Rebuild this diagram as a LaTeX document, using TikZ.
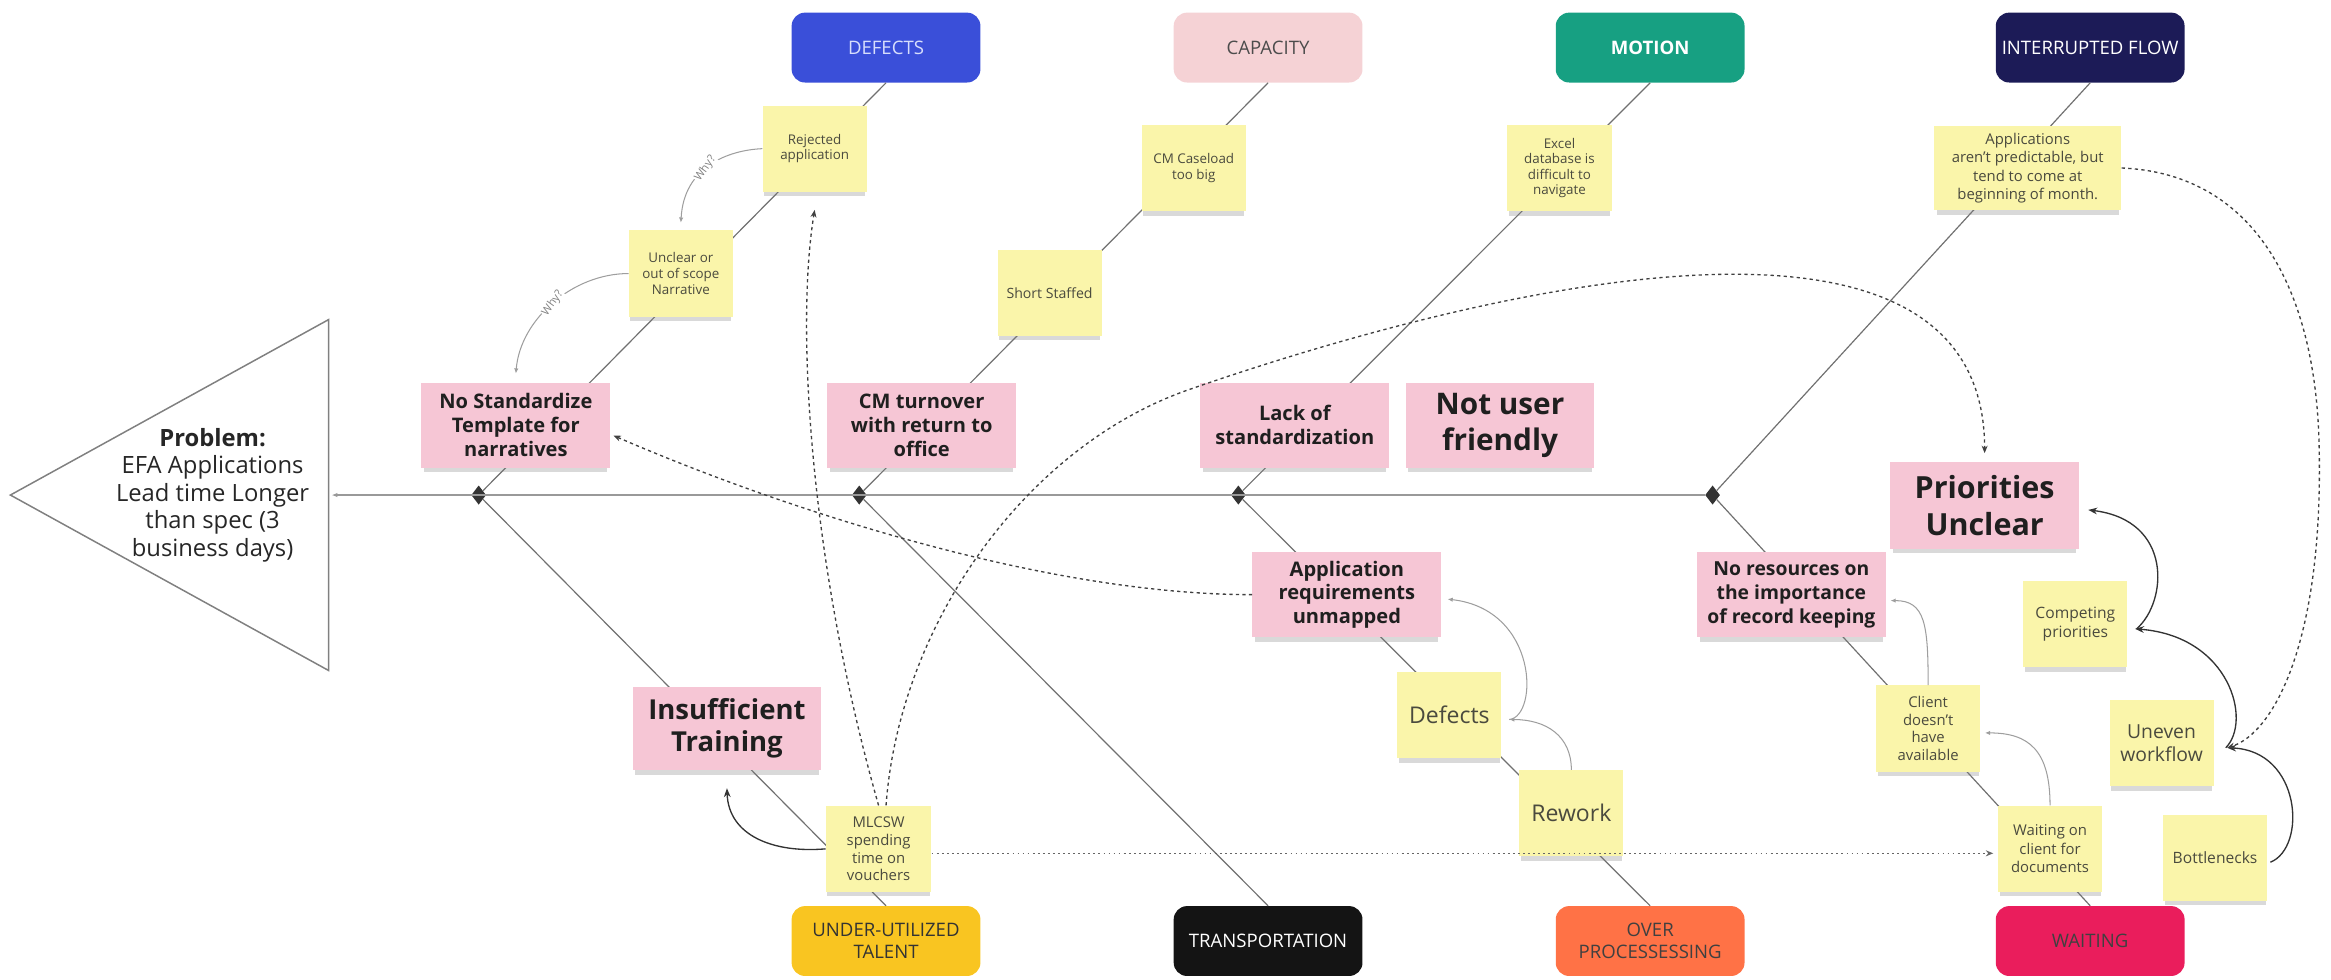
\documentclass[tikz,border=0pt]{standalone}
\usepackage{fontspec}
\setmainfont{Open Sans}
\usetikzlibrary{shapes.geometric,arrows.meta,shadows,calc}
\definecolor{cdefects}{HTML}{3A4FD9}
\definecolor{ccapacity}{HTML}{F5D2D5}
\definecolor{cmotion}{HTML}{17A082}
\definecolor{cinter}{HTML}{1C1B57}
\definecolor{cunder}{HTML}{F9C521}
\definecolor{ctrans}{HTML}{141414}
\definecolor{cover}{HTML}{FF7246}
\definecolor{cwait}{HTML}{EA1D5C}
\definecolor{pinkbox}{HTML}{F6C6D5}
\definecolor{sticky}{HTML}{FAF5AA}
\definecolor{stext}{HTML}{4A4A3E}
\definecolor{bonec}{HTML}{707070}
\tikzset{
 cat/.style={rounded corners=9pt,minimum width=127pt,minimum height=47pt,align=center,inner sep=1pt,font=\fontsize{12.5}{14.5}\selectfont},
 shd/.style={drop shadow={shadow xshift=0pt,shadow yshift=-4pt,shadow scale=0.97,opacity=0.3}},
 pinkn/.style={shd,fill=pinkbox,minimum width=127pt,minimum height=57pt,align=center,inner sep=1pt,text=black!88,font=\bfseries\fontsize{13.5}{16}\selectfont},
 stick/.style={shd,fill=sticky,minimum width=70pt,minimum height=58pt,align=center,inner sep=1pt,text=stext,font=\fontsize{9}{10.5}\selectfont},
 dia/.style={diamond,fill=black!80,minimum width=10pt,minimum height=13pt,inner sep=0pt},
 bone/.style={draw=bonec,line width=0.8pt},
 spine/.style={draw=black!40,line width=1.3pt},
 graylink/.style={draw=black!38,line width=0.7pt,-{Latex[length=3.5pt,width=3pt]}},
 blacklink/.style={draw=black!80,line width=0.9pt,-{Stealth[length=6pt,width=4.5pt]}},
 dashlink/.style={draw=black!75,line width=0.9pt,dash pattern=on 2.2pt off 2.2pt,-{Stealth[length=5pt,width=4pt]}},
 dotlink/.style={draw=black!60,line width=1pt,dash pattern=on 1.2pt off 2.2pt,-{Stealth[length=5pt,width=4pt]}},
 whylab/.style={font=\fontsize{7.5}{8}\selectfont,text=black!50,fill=white,inner sep=0.5pt,rotate=55},
}
\begin{document}
\begin{tikzpicture}[x=1pt,y=-1pt]
\useasboundingbox (0,0) rectangle (1568,659);
% problem head
\coordinate (tTip) at (7,333);
\coordinate (tTop) at (221,215);
\coordinate (tBot) at (221,451);
\coordinate (tR) at (223,333);
\draw[draw=black!50,line width=1pt] (tTip) -- (tTop) -- (tBot) -- cycle;
\node[align=center,text=black!85,font=\fontsize{16}{18.5}\selectfont] (prob) at (143,333)
 {\textbf{Problem:}\\EFA Applications\\Lead time Longer\\than spec (3\\business days)};
% categories
\node[cat,fill=cdefects,text={rgb,255:red,215;green,222;blue,252}] (cDef) at (596,32) {DEFECTS};
\node[cat,fill=ccapacity,text=black!70] (cCap) at (853,32) {CAPACITY};
\node[cat,fill=cmotion,text=white,font=\bfseries\fontsize{12.5}{14.5}\selectfont] (cMot) at (1110,32) {MOTION};
\node[cat,fill=cinter,text=white] (cInt) at (1406,32) {INTERRUPTED FLOW};
\node[cat,fill=cunder,text=black!80] (cUnd) at (596,633) {UNDER-UTILIZED\\TALENT};
\node[cat,fill=ctrans,text=white] (cTra) at (853,633) {TRANSPORTATION};
\node[cat,fill=cover,text=black!75] (cOve) at (1110,633) {OVER\\PROCESSESSING};
\node[cat,fill=cwait,text=black!75] (cWai) at (1406,633) {WAITING};
% diamonds
\node[dia] (d1) at (322,333) {};
\node[dia] (d2) at (578,333) {};
\node[dia] (d3) at (833,333) {};
\node[dia] (d4) at (1152,333) {};
% spine and bones
\draw[spine,-{Latex[length=4pt,width=3pt]}] (d4) -- (tR);
\draw[bone] (d1) -- (cDef.south);
\draw[bone] (d2) -- (cCap.south);
\draw[bone] (d3) -- (cMot.south);
\draw[bone] (d4) -- (cInt.south);
\draw[bone] (d1) -- (cUnd.north);
\draw[bone] (d2) -- (cTra.north);
\draw[bone] (d3) -- (cOve.north);
\draw[bone] (d4) -- (cWai.north);
% pink nodes
\node[pinkn] (pNst) at (347,286) {No Standardize\\Template for\\narratives};
\node[pinkn] (pCmt) at (620,286) {CM turnover\\with return to\\office};
\node[pinkn] (pLack) at (871,286) {Lack of\\standardization};
\node[pinkn,font=\bfseries\fontsize{20}{24.5}\selectfont] (pNuf) at (1009,286) {Not user\\friendly};
\node[pinkn,minimum height=58pt,font=\bfseries\fontsize{20.5}{24.5}\selectfont] (pPri) at (1335,340) {Priorities\\Unclear};
\node[pinkn] (pApp) at (906,400) {Application\\requirements\\unmapped};
\node[pinkn,font=\bfseries\fontsize{13}{16}\selectfont] (pNores) at (1205,400) {No resources on\\the importance\\of record keeping};
\node[pinkn,minimum height=56pt,font=\bfseries\fontsize{18.5}{21.5}\selectfont] (pIns) at (489,490) {Insufficient\\Training};
% stickies
\node[stick] (sRej) at (548,100) {Rejected\\application};
\node[stick] (sUnc) at (458,184) {Unclear or\\out of scope\\Narrative};
\node[stick] (sCmc) at (803,113) {CM Caseload\\too big};
\node[stick,font=\fontsize{9.5}{11}\selectfont] (sSs) at (706,197) {Short Staffed};
\node[stick] (sExc) at (1049,113) {Excel\\database is\\difficult to\\navigate};
\node[stick,minimum width=126pt,minimum height=57pt,font=\fontsize{10}{12.4}\selectfont] (sAppl) at (1364,113) {Applications\\aren't predictable, but\\tend to come at\\beginning of month.};
\node[stick,minimum width=71pt,font=\fontsize{10}{12}\selectfont] (sMlc) at (591,571) {MLCSW\\spending\\time on\\vouchers};
\node[stick,font=\fontsize{15.5}{18}\selectfont] (sDef) at (975,481) {Defects};
\node[stick,font=\fontsize{15.5}{18}\selectfont] (sRew) at (1057,547) {Rework};
\node[stick,font=\fontsize{10}{12}\selectfont] (sCli) at (1297,490) {Client\\doesn't\\have\\available};
\node[stick,font=\fontsize{10}{12.5}\selectfont] (sWai) at (1379,571) {Waiting on\\client for\\documents};
\node[stick,font=\fontsize{10.5}{12.5}\selectfont] (sCmp) at (1396,420) {Competing\\priorities};
\node[stick,font=\fontsize{13}{15.5}\selectfont] (sUne) at (1454,500) {Uneven\\workflow};
\node[stick,font=\fontsize{10.5}{12.5}\selectfont] (sBot) at (1490,577) {Bottlenecks};
% why arcs
\draw[graylink] (sRej.west) .. controls (490,101) and (460,112) .. ($(sUnc.north)+(0,-5)$)
  node[whylab,pos=0.55] {Why?};
\draw[graylink] (sUnc.west) .. controls (385,184) and (350,215) .. ($(pNst.north)+(0,-6)$)
  node[whylab,pos=0.5] {Why?};
% gray chains
\draw[graylink] ($(sDef.east)+(5,3)$) .. controls (1035,482) and (1035,410) .. ($(pApp.east)+(4,3)$);
\draw[graylink] (sRew.north) .. controls (1057,495) and (1040,484) .. ($(sDef.east)+(5,3)$);
\draw[graylink] (sCli.north) .. controls (1297,420) and (1295,404) .. ($(pNores.east)+(3,4)$);
\draw[graylink] (sWai.north) .. controls (1379,505) and (1365,493) .. ($(sCli.east)+(3,3)$);
% black arcs
\draw[blacklink] (sMlc.west) .. controls (520,574) and (490,562) .. ($(pIns.south)+(0,12)$);
\draw[blacklink] ($(sCmp.east)+(6,3)$) .. controls (1458,405) and (1462,350) .. ($(pPri.east)+(6,3)$);
\draw[blacklink] ($(sUne.east)+(8,3)$) .. controls (1515,485) and (1500,428) .. ($(sCmp.east)+(5,3)$);
\draw[blacklink] ($(sBot.east)+(2,3)$) .. controls (1552,570) and (1548,505) .. ($(sUne.east)+(9,3)$);
% dashed links
\draw[dashlink] (sAppl.east) .. controls (1520,117) and (1558,200) .. (1560,300)
  .. controls (1563,430) and (1530,493) .. ($(sUne.east)+(9,3)$);
\draw[dashlink] (sMlc.north) .. controls (545,380) and (535,220) .. ($(sRej.south)+(0,12)$);
\draw[dashlink] ($(sMlc.north)+(5,0)$) .. controls (605,420) and (690,300) .. (800,262)
  .. controls (990,196) and (1335,110) .. ($(pPri.north)+(0,-6)$);
\draw[dashlink] (pApp.west) .. controls (700,400) and (521,340) .. ($(pNst.east)+(2,7)$);
\draw[dotlink] ($(sMlc.east)+(0,3)$) -- ($(sWai.west)+(-3,3)$);
\end{tikzpicture}
\end{document}
